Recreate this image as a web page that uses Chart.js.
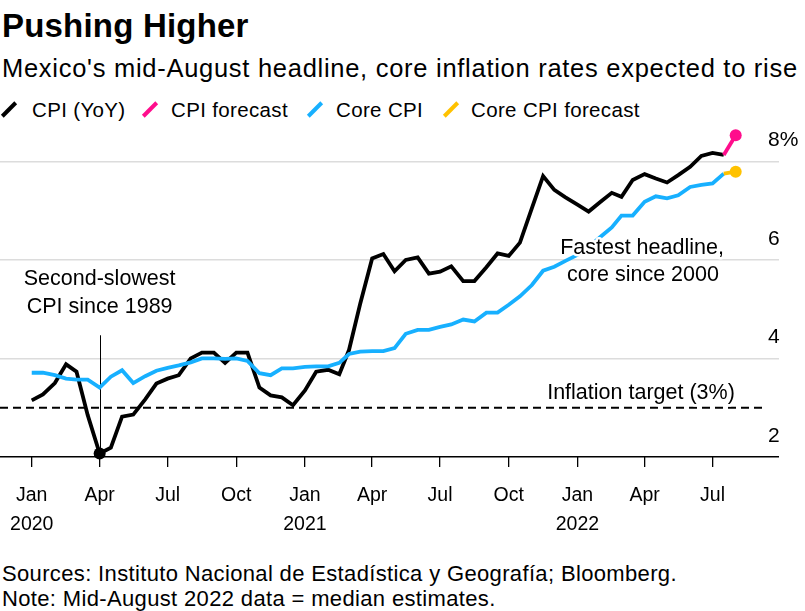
<!DOCTYPE html>
<html>
<head>
<meta charset="utf-8">
<script src="https://cdn.jsdelivr.net/npm/chart.js@4"></script>
<style>
  body { margin: 0; background: #fff; font-family: "Liberation Sans", Arial, sans-serif; color: #000; }
  #wrap { position: relative; width: 805px; height: 611px; overflow: hidden; }
  .title { position: absolute; left: 2px; top: 7px; font-size: 33px; line-height: normal; font-weight: bold; letter-spacing: 0.2px; }
  .subtitle { position: absolute; left: 2px; top: 54px; font-size: 25.5px; line-height: normal; letter-spacing: 0.72px; white-space: nowrap; }
  .legend { position: absolute; left: 0; top: 98px; font-size: 20.5px; line-height: normal; letter-spacing: 0.35px; white-space: nowrap; }
  .legend span.item { position: absolute; top: 0; }
  .legend span.item span { position: absolute; top: 0; }
  .legend i { position: absolute; top: 2px; width: 4px; height: 19px; transform: rotate(45deg); }
  .footer { position: absolute; left: 2px; top: 561px; font-size: 22px; line-height: 25px; letter-spacing: 0.35px; white-space: nowrap; }
  canvas { position: absolute; left: 0; top: 115px; }
</style>
</head>
<body>
<div id="wrap">
  <div class="title">Pushing Higher</div>
  <div class="subtitle">Mexico's mid-August headline, core inflation rates expected to rise</div>
  <div class="legend">
    <span class="item" style="left:0"><i style="left:7px;background:#000"></i><span style="left:32px">CPI&nbsp;(YoY)</span></span>
    <span class="item" style="left:141px"><i style="left:7px;background:#ff0d8c"></i><span style="left:30px">CPI&nbsp;forecast</span></span>
    <span class="item" style="left:306px"><i style="left:7px;background:#17b0ff"></i><span style="left:30px">Core&nbsp;CPI</span></span>
    <span class="item" style="left:442px"><i style="left:7px;background:#ffc200"></i><span style="left:29px">Core&nbsp;CPI&nbsp;forecast</span></span>
  </div>
  <canvas id="chart" width="805" height="430"></canvas>
  <div class="footer">Sources: Instituto Nacional de Estadística y Geografía; Bloomberg.<br>Note: Mid-August 2022 data = median estimates.</div>
</div>
<script>
// fortnight start dates (1H = 1st, 2H = 16th)
const periods = [
  '2020-01-01','2020-01-16','2020-02-01','2020-02-16','2020-03-01','2020-03-16',
  '2020-04-01','2020-04-16','2020-05-01','2020-05-16','2020-06-01','2020-06-16',
  '2020-07-01','2020-07-16','2020-08-01','2020-08-16','2020-09-01','2020-09-16',
  '2020-10-01','2020-10-16','2020-11-01','2020-11-16','2020-12-01','2020-12-16',
  '2021-01-01','2021-01-16','2021-02-01','2021-02-16','2021-03-01','2021-03-16',
  '2021-04-01','2021-04-16','2021-05-01','2021-05-16','2021-06-01','2021-06-16',
  '2021-07-01','2021-07-16','2021-08-01','2021-08-16','2021-09-01','2021-09-16',
  '2021-10-01','2021-10-16','2021-11-01','2021-11-16','2021-12-01','2021-12-16',
  '2022-01-01','2022-01-16','2022-02-01','2022-02-16','2022-03-01','2022-03-16',
  '2022-04-01','2022-04-16','2022-05-01','2022-05-16','2022-06-01','2022-06-16',
  '2022-07-01','2022-07-16','2022-08-01'
];

// CPI YoY %, the forecast is the mid-August median estimate
const cpi = [
  3.15, 3.27, 3.50, 3.88, 3.73, 2.85, 2.07, 2.19, 2.82, 2.86, 3.17, 3.49,
  3.59, 3.66, 4.00, 4.12, 4.12, 3.91, 4.12, 4.12, 3.41, 3.25, 3.21, 3.05,
  3.35, 3.73, 3.77, 3.68, 4.17, 5.11, 6.03, 6.12, 5.77, 6.00, 6.05, 5.72,
  5.76, 5.87, 5.57, 5.57, 5.85, 6.13, 6.08, 6.35, 7.05, 7.70, 7.42, 7.27,
  7.12, 6.98, 7.18, 7.36, 7.28, 7.62, 7.74, 7.65, 7.57, 7.72, 7.89, 8.11,
  8.17, 8.13
];
const cpiForecast = 8.53;

const core = [
  3.71, 3.71, 3.66, 3.59, 3.57, 3.57, 3.41, 3.63, 3.76, 3.50, 3.64, 3.75,
  3.81, 3.86, 3.92, 4.00, 4.00, 3.99, 4.00, 3.95, 3.70, 3.66, 3.80, 3.80,
  3.83, 3.84, 3.84, 3.91, 4.09, 4.14, 4.15, 4.15, 4.21, 4.50, 4.58, 4.58,
  4.64, 4.69, 4.79, 4.75, 4.93, 4.93, 5.09, 5.26, 5.49, 5.78, 5.86, 5.98,
  6.10, 6.26, 6.47, 6.66, 6.90, 6.90, 7.18, 7.29, 7.25, 7.31, 7.48, 7.52,
  7.55, 7.75
];
const coreForecast = 7.79;

const inflationTarget = 3;

const tickDates  = ['2020-01-01','2020-04-01','2020-07-01','2020-10-01','2021-01-01','2021-04-01',
                    '2021-07-01','2021-10-01','2022-01-01','2022-04-01','2022-07-01'];
const tickMonths = ['Jan','Apr','Jul','Oct','Jan','Apr','Jul','Oct','Jan','Apr','Jul'];
const tickYears  = ['2020','','','','2021','','','','2022','',''];
const yTicks = [2, 4, 6, 8];

const BASE = Date.UTC(2020, 0, 1);
function dayOf(s) {
  const p = s.split('-').map(Number);
  return (Date.UTC(p[0], p[1] - 1, p[2]) - BASE) / 86400000;
}
const xs = periods.map(dayOf);
const last = cpi.length - 1;
const lowIdx = cpi.indexOf(Math.min(...cpi));

const cpiPts = cpi.map((v, i) => ({ x: xs[i], y: v }));
const corePts = core.map((v, i) => ({ x: xs[i], y: v }));
const cpiFcPts = [{ x: xs[last], y: cpi[last] }, { x: xs[last + 1], y: cpiForecast }];
const coreFcPts = [{ x: xs[last], y: core[last] }, { x: xs[last + 1], y: coreForecast }];

const FONT = '"Liberation Sans", Arial, sans-serif';

// target line, y labels and the text notes
const notes = {
  id: 'notes',
  beforeDatasetsDraw(chart) {
    const { ctx, chartArea: a, scales: { x, y } } = chart;
    const ty = y.getPixelForValue(inflationTarget);
    ctx.save();
    ctx.strokeStyle = '#000';
    ctx.lineWidth = 2;
    ctx.setLineDash([8, 5]);
    ctx.beginPath();
    ctx.moveTo(a.left, ty);
    ctx.lineTo(a.right - 12, ty);
    ctx.stroke();
    ctx.setLineDash([]);
    // leader line to the low point
    const lx = Math.round(x.getPixelForValue(xs[lowIdx])) + 0.5;
    ctx.lineWidth = 1;
    ctx.beginPath();
    ctx.moveTo(lx, y.getPixelForValue(2));
    ctx.lineTo(lx, y.getPixelForValue(4.47));
    ctx.stroke();

    // y labels sit above their grid lines
    ctx.font = '21px ' + FONT;
    ctx.fillStyle = '#000';
    ctx.textAlign = 'left';
    ctx.textBaseline = 'middle';
    yTicks.forEach(v => {
      ctx.fillText(v === 8 ? '8%' : String(v), a.right - 11, y.getPixelForValue(v) - 21);
    });
    ctx.restore();
  },
  afterDatasetsDraw(chart) {
    const { ctx, scales: { x, y } } = chart;
    ctx.save();
    ctx.font = '21.5px ' + FONT;
    ctx.textAlign = 'center';
    ctx.textBaseline = 'middle';
    const lx = x.getPixelForValue(xs[lowIdx]);
    const txt = (s, px, py) => {
      ctx.lineWidth = 5;
      ctx.strokeStyle = '#fff';
      ctx.lineJoin = 'round';
      ctx.strokeText(s, px, py);
      ctx.fillStyle = '#000';
      ctx.fillText(s, px, py);
    };
    txt('Second-slowest', lx, y.getPixelForValue(5.61));
    txt('CPI since 1989', lx, y.getPixelForValue(5.04));
    txt('Fastest headline,', 642, y.getPixelForValue(6.24));
    txt('core since 2000', 643, y.getPixelForValue(5.69));
    txt('Inflation target (3%)', 641, y.getPixelForValue(3.29));
    ctx.restore();
  }
};

new Chart(document.getElementById('chart'), {
  type: 'line',
  data: {
    datasets: [
      {
        label: 'CPI forecast', data: cpiFcPts, borderColor: '#ff0d8c', backgroundColor: '#ff0d8c',
        borderWidth: 3.8, pointRadius: c => c.dataIndex === 1 ? 6 : 0, pointBorderWidth: 0
      },
      {
        label: 'Core CPI forecast', data: coreFcPts, borderColor: '#ffc200', backgroundColor: '#ffc200',
        borderWidth: 3.8, pointRadius: c => c.dataIndex === 1 ? 6 : 0, pointBorderWidth: 0
      },
      {
        label: 'Core CPI', data: corePts, borderColor: '#17b0ff', borderWidth: 3.8,
        pointRadius: 0, tension: 0
      },
      {
        label: 'CPI (YoY)', data: cpiPts, borderColor: '#000', backgroundColor: '#000', borderWidth: 3.8,
        pointRadius: c => c.dataIndex === lowIdx ? 6 : 0, pointBorderWidth: 0, tension: 0
      }
    ]
  },
  options: {
    responsive: false,
    animation: false,
    clip: false,
    layout: { padding: 0, autoPadding: false },
    plugins: { legend: { display: false }, tooltip: { enabled: false } },
    elements: { line: { borderJoinStyle: 'miter', borderCapStyle: 'butt' } },
    scales: {
      x: {
        type: 'linear',
        min: -42.5,
        max: 1001,
        afterBuildTicks: s => { s.ticks = tickDates.map(d => ({ value: dayOf(d) })); },
        afterFit: s => { s.height = 88; s.paddingLeft = 0; s.paddingRight = 0; },
        border: { display: false },
        grid: { drawOnChartArea: false, drawTicks: true, tickLength: 10, color: '#000', lineWidth: 1.3 },
        ticks: {
          autoSkip: false, maxRotation: 0, padding: 14, color: '#000',
          font: { family: FONT, size: 19.5, lineHeight: 1.5 },
          callback: (v, i) => [tickMonths[i], tickYears[i]]
        }
      },
      y: {
        position: 'right',
        min: 2,
        max: 8.94,
        afterBuildTicks: s => { s.ticks = yTicks.map(v => ({ value: v })); },
        afterFit: s => { s.width = 26; s.paddingTop = 0; s.paddingBottom = 0; },
        border: { display: false },
        grid: {
          drawTicks: false,
          color: c => c.tick && c.tick.value === 2 ? '#000' : '#dcdcdc',
          lineWidth: 1.5
        },
        ticks: { display: false }
      }
    }
  },
  plugins: [notes]
});
</script>
</body>
</html>
